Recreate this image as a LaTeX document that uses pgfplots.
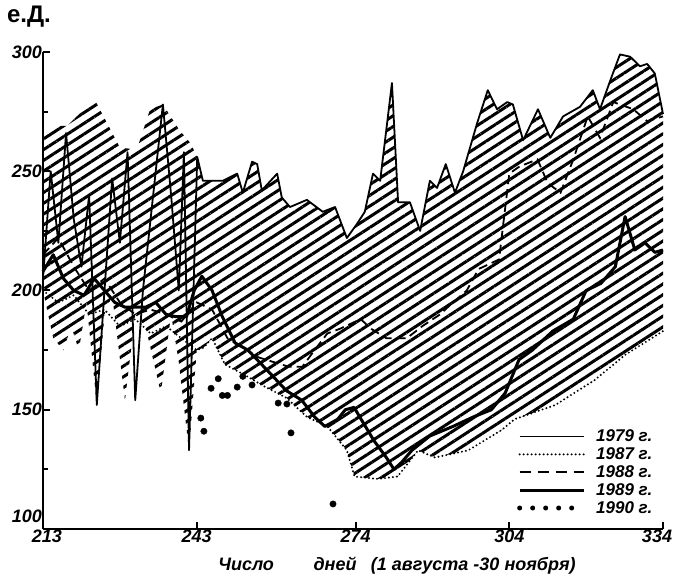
\documentclass[border=0pt]{standalone}
\usepackage{fontspec}
\setmainfont{Liberation Sans}
\usepackage{pgfplots}
\pgfplotsset{compat=1.18}
\usepgfplotslibrary{fillbetween}
\usetikzlibrary{patterns.meta}
\begin{document}
\begin{tikzpicture}
\begin{axis}[name=ax, scale only axis, width=620pt, height=477pt,
  xmin=213, xmax=334, ymin=100, ymax=300,
  axis lines=left, axis line style={line width=2.2pt, -},
  xtick={213,243,274,304,334}, xticklabels={213\hspace*{-8pt},243,274,304,\hspace*{-12pt}334},
  ytick={100,150,200,250,300}, yticklabels={\raisebox{7pt}[0pt][0pt]{100},150,200,250,300},
  minor ytick={125,175,225,275},
  tick align=inside, major tick length=7pt, minor tick length=5pt,
  tick style={line width=2pt, black},
  /pgf/number format/assume math mode=true,
  ticklabel style={font=\bfseries\itshape\fontsize{18}{18}\selectfont, inner sep=1pt},
  xlabel={Число\hspace{2.2em}дней\hspace{0.8em}(1 августа -30 ноября)},
  xlabel style={font=\bfseries\itshape\fontsize{18}{18}\selectfont, at={(axis description cs:0.5,0)}, anchor=north, yshift=-24pt, xshift=44pt},
  clip=false,
  legend style={draw=none, fill=none, at={(axis cs:305.5,142.5)}, anchor=north west,
    font=\bfseries\itshape\fontsize{17}{17}\selectfont, row sep=0.5pt, inner sep=0pt},
  legend cell align=left,
  legend image code/.code={\draw[#1] (0pt,0pt) -- (64pt,0pt); \path (72pt,0pt);},
]
% envelopes
\addplot[name path=upper, draw=none, forget plot] coordinates {
(213,267) (215,269) (217.7,269) (219.6,273) (223.1,280) (228,260) (231.3,259)
(233.9,276) (236.4,278) (239.7,267) (241.7,262) (243.1,256) (244.2,246)
(248.1,246) (250.9,249) (252,241) (253.8,254) (254.8,253) (255.7,242)
(258.7,249) (259.6,239) (261.2,235) (264.5,238) (267.6,233) (270,235)
(272.3,222) (274.3,228) (275.8,233) (277.4,249) (278.8,246) (281.1,287)
(282.3,237) (284.6,237) (286.6,225) (288.5,246) (289.9,243) (291.6,253)
(293.4,241) (295,250) (297.7,270) (299.8,284) (301.6,276) (303.6,279) (304.7,278)
(306.7,263) (309.6,276) (312,264) (314.5,273) (317.8,277) (320.3,284)
(321.7,276) (323.7,288) (325.6,299) (327.6,298) (329.5,294) (330.9,295)
(332.4,291) (334,274)};
\addplot[name path=lower, draw=none, forget plot] coordinates {
(213,200) (215,180) (217,175) (218.5,185) (220,175) (221.5,195) (223.5,152)
(225,190) (226.5,198) (229,154) (231,190) (233,185) (236,157) (238,190)
(239.5,170) (241.5,133) (243,175) (244.3,176) (246,180) (248.5,169) (252,165)
(256,160) (260.5,155) (264.5,147) (268.5,143) (272.3,133) (273.8,122)
(278.3,121) (282.2,122) (286.2,133) (289.5,130) (296,133) (302.5,141.5)
(305,146) (313,152) (320.7,162.5) (326.6,173) (334,183)};
\addplot[pattern={Lines[angle=33,distance=9pt,line width=3pt]}, draw=none, forget plot]
  fill between[of=upper and lower];
% 1979
\addplot[black, line width=1.8pt, line join=round, forget plot] coordinates {
(213,205) (214.5,250) (216,220) (217.5,266) (219,230) (220.5,210) (222,240)
(223.5,152) (225,200) (226.5,247) (228,220) (229.5,258) (231,154) (232.5,200)
(234.5,240) (236.4,278) (238,240) (239.5,200) (240.5,258) (241.5,133) (243.1,256) (244.2,246)
(248.1,246) (250.9,249) (252,241) (253.8,254) (254.8,253) (255.7,242)
(258.7,249) (259.6,239) (261.2,235) (264.5,238) (267.6,233) (270,235)
(272.3,222) (274.3,228) (275.8,233) (277.4,249) (278.8,246) (281.1,287)
(282.3,237) (284.6,237) (286.6,225) (288.5,246) (289.9,243) (291.6,253)
(293.4,241) (295,250) (297.7,270) (299.8,284) (301.6,276) (303.6,279) (304.7,278)
(306.7,263) (309.6,276) (312,264) (314.5,273) (317.8,277) (320.3,284)
(321.7,276) (323.7,288) (325.6,299) (327.6,298) (329.5,294) (330.9,295)
(332.4,291) (334,274)};
% 1987
\addplot[black, line width=2.2pt, dash pattern=on 0pt off 4pt, line cap=round, forget plot] coordinates {
(213,200) (216,195) (219,198) (222,190) (225,192) (228,185) (231,188) (234,182)
(237,185) (240,180) (243,175) (244.3,176) (246,180) (248.5,169) (252,165)
(256,160) (260.5,155) (264.5,147) (268.5,143) (272.3,133) (273.8,122)
(278.3,121) (282.2,122) (286.2,133) (289.5,130) (296,133) (302.5,141.5)
(305,146) (313,152) (320.7,162.5) (326.6,173) (334,183)};
% 1988
\addplot[black, line width=1.8pt, dash pattern=on 9pt off 5pt, forget plot] coordinates {
(213,215) (216,222) (219,210) (222,200) (225,205) (228,195) (231,190) (234,192)
(237,190) (240,187) (243,195) (246,192) (249,180) (252,176) (255,172) (258,170)
(261,168) (263.6,168) (266,175) (268.5,182) (271,184) (273,186) (275,188)
(277,184) (280,180) (284,180) (287,185) (290.5,190) (292.5,194) (295.7,200)
(298,209) (302,213) (303,231) (304,249) (306,252) (309.5,255) (311.5,245)
(314,241) (316.5,255) (319.3,273) (321.7,264) (324.3,279) (328.2,276)
(330.9,271) (334,273)};
% 1989
\addplot[black, line width=3pt, line join=round, forget plot] coordinates {
(213,208) (215,215) (217,205) (219,200) (221,198) (223,205) (225,200) (227,195)
(229,193) (231,193) (233,193) (235,195) (237,190) (239,189) (241,189)
(242.5,200) (244,206) (246,200) (248,189) (250.5,178) (253,175) (257,166)
(260.5,158) (263.5,154) (266,147) (268,143) (270.5,146) (272,150) (273.7,151)
(277.6,137) (280,130) (281.5,125) (283,128) (285,133) (288.5,139) (293,143)
(297,147) (300.5,150) (303.2,157) (305.9,171) (308.5,175) (312.5,183)
(316.5,188) (319,200) (321.9,203) (324.7,210) (326.6,231) (328.5,217)
(330.5,220) (332.4,216) (334,217)};
% 1990
\addplot[only marks, mark=*, mark size=3.2pt, black, forget plot] coordinates {
(243.8,146.5) (244.4,141) (245.8,159) (247.2,163) (248,156) (249,156)
(250.9,159.5) (252,164) (253.8,160.4) (258.9,152.8) (260.6,152.4)
(261.4,140.3) (269.6,110.5)};
\addlegendimage{black, line width=1.8pt}
\addlegendentry{1979 г.}
\addlegendimage{black, line width=2.2pt, dash pattern=on 0pt off 4pt, line cap=round}
\addlegendentry{1987 г.}
\addlegendimage{black, line width=1.8pt, dash pattern=on 11pt off 7pt}
\addlegendentry{1988 г.}
\addlegendimage{black, line width=3pt}
\addlegendentry{1989 г.}
\addlegendimage{black, line width=5pt, dash pattern=on 0pt off 13pt, line cap=round}
\addlegendentry{1990 г.}
\node[font=\bfseries\fontsize{24}{24}\selectfont, anchor=center] at ([shift={(-14pt,35pt)}]rel axis cs:0,1) {е.Д.};
\end{axis}
\pgfresetboundingbox
\path ([shift={(-43pt,-46pt)}]ax.south west) rectangle ([shift={(13pt,52pt)}]ax.north east);
\end{tikzpicture}
\end{document}
